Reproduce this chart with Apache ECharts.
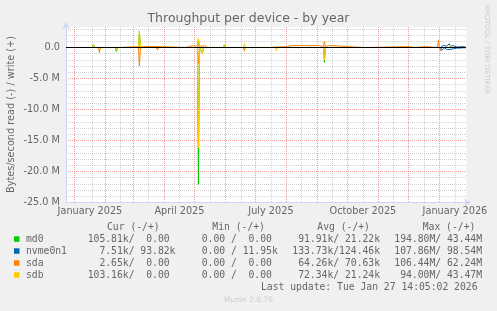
<!DOCTYPE html>
<html><head><meta charset="utf-8">
<script src="https://cdn.jsdelivr.net/npm/echarts@6/dist/echarts.min.js"></script>
<style>html,body{margin:0;padding:0;background:#F0F0F0;}#c{width:497px;height:311px;}</style>
</head><body><div id="c"></div>
<script>
// ---------- data ----------
const startTime = '2024-12-23 14:05:02';
const endTime = '2026-01-27 14:05:02';
const monthStarts = ['2025-01-01','2025-02-01','2025-03-01','2025-04-01','2025-05-01','2025-06-01','2025-07-01','2025-08-01','2025-09-01','2025-10-01','2025-11-01','2025-12-01','2026-01-01'];
const minorTicks = ['2025-01-19 07:00','2025-02-15 14:00','2025-03-15 22:00','2025-04-15 22:00','2025-05-17 07:00','2025-06-17 07:00','2025-07-17 07:00','2025-08-16 07:00','2025-09-15 22:00','2025-10-16 14:00','2025-11-16 07:00','2025-12-16 22:00','2026-01-16 14:00'];
const xLabelDates = ['2025-01-16 12:00','2025-04-16 00:00','2025-07-16 12:00','2025-10-16 12:00','2026-01-16 12:00'];
const xLabelTexts = ['January 2025','April 2025','July 2025','October 2025','January 2026'];

// values in millions of bytes/second; reads negative, writes positive
const md0Read = [['2025-02-11',0],['2025-02-12',-0.65],['2025-02-13',0],['2025-05-04',0],['2025-05-05',-22.1],['2025-05-06',0],['2025-05-08',0],['2025-05-09',-1.0],['2025-05-10',0],['2025-09-07',0],['2025-09-08',-2.4],['2025-09-09',0]];
const md0Write = [['2025-01-19',0],['2025-01-20',0.5],['2025-01-21',0],['2025-03-06',0],['2025-03-07',2.6],['2025-03-08',0],['2025-05-04',0],['2025-05-05',1.4],['2025-05-06',0],['2025-05-30',0],['2025-05-31',0.45],['2025-06-01',0]];
const nvmeDates = ['2026-01-03','2026-01-04','2026-01-05','2026-01-06','2026-01-07','2026-01-08','2026-01-09','2026-01-10','2026-01-11','2026-01-12','2026-01-13','2026-01-14','2026-01-15','2026-01-16','2026-01-17','2026-01-18','2026-01-19','2026-01-20','2026-01-21','2026-01-22','2026-01-23','2026-01-24','2026-01-25','2026-01-26','2026-01-27'];
const nvmeRead = [-0.45,-0.2,-0.35,-0.1,-0.3,-0.15,-0.35,-0.1,-0.2,-0.3,-0.15,-0.1,-0.2,-0.1,-0.15,-0.1,-0.1,-0.05,-0.1,-0.05,-0.1,-0.05,-0.1,-0.05,-0.05];
const nvmeWrite = [0.3,0.15,0.35,0.1,0.25,0.2,0.3,0.15,0.6,0.2,0.1,0.25,0.3,0.15,0.2,0.1,0.2,0.15,0.1,0.15,0.1,0.15,0.1,0.1,0.1];
const sdaRead = [['2025-01-25',0],['2025-01-26',-0.85],['2025-01-27',0],['2025-02-11',0],['2025-02-12',-0.3],['2025-02-13',0],['2025-03-06',0],['2025-03-07',-3.0],['2025-03-08',0],['2025-03-24',0],['2025-03-25',-0.4],['2025-03-26',0],['2025-05-04',0],['2025-05-05',-2.6],['2025-05-06',0],['2025-05-07',0],['2025-05-08',-0.3],['2025-05-09',0],['2025-06-19',0],['2025-06-20',-0.6],['2025-06-21',0],['2025-09-07',0],['2025-09-08',-1.0],['2025-09-09',0],['2026-01-01',0],['2026-01-02',-0.55],['2026-01-03',0]];
const sdaWrite = [['2025-01-12',0],['2025-01-13',0.15],['2025-01-14',0],['2025-02-15',0],['2025-02-16',0.15],['2025-03-09',0.15],['2025-03-10',0.35],['2025-03-11',0.15],['2025-03-25',0.15],['2025-03-26',0],['2025-04-22',0],['2025-04-23',0.25],['2025-04-26',0.15],['2025-04-29',0.3],['2025-05-02',0.2],['2025-05-05',0.35],['2025-05-08',0.2],['2025-05-11',0.3],['2025-05-13',0.2],['2025-05-14',0],['2025-07-05',0],['2025-07-06',0.15],['2025-07-07',0],['2025-07-15',0],['2025-07-16',0.15],['2025-08-02',0.15],['2025-08-03',0.45],['2025-08-04',0.15],['2025-08-06',0.3],['2025-08-07',0.15],['2025-08-14',0.3],['2025-08-15',0.15],['2025-08-19',0.3],['2025-08-20',0.15],['2025-09-03',0.3],['2025-09-04',0.15],['2025-09-07',0.15],['2025-09-08',1.0],['2025-09-09',0.15],['2025-09-12',0.3],['2025-09-13',0.15],['2025-09-17',0.3],['2025-09-18',0.15],['2025-09-22',0.25],['2025-09-23',0.15],['2025-09-30',0.15],['2025-10-01',0],['2025-10-18',0],['2025-10-19',0.3],['2025-10-20',0],['2025-10-23',0],['2025-10-24',0.15],['2025-11-29',0.15],['2025-11-30',0],['2025-12-08',0],['2025-12-09',0.15],['2025-12-18',0.15],['2025-12-19',0],['2025-12-30',0],['2025-12-31',1.2],['2026-01-01',0]];
const sdbRead = [['2025-02-11',0],['2025-02-12',-0.4],['2025-02-13',0],['2025-05-04',0],['2025-05-05',-16.2],['2025-05-06',0],['2025-05-08',0],['2025-05-09',-1.0],['2025-05-10',0],['2025-06-09',0],['2025-06-10',-0.2],['2025-06-11',0],['2025-07-21',0],['2025-07-22',-0.5],['2025-07-23',0],['2025-09-07',0],['2025-09-08',-2.0],['2025-09-09',0],['2025-09-25',0],['2025-09-26',-0.2],['2025-09-27',0],['2025-12-10',0],['2025-12-11',-0.25],['2025-12-12',0]];
const sdbWrite = [['2025-01-19',0],['2025-01-20',0.5],['2025-01-21',0],['2025-03-06',0],['2025-03-07',2.7],['2025-03-08',0],['2025-05-04',0],['2025-05-05',1.5],['2025-05-06',0],['2025-05-30',0],['2025-05-31',0.5],['2025-06-01',0],['2025-06-19',0],['2025-06-20',0.6],['2025-06-21',0],['2026-01-11',0],['2026-01-12',0.4],['2026-01-13',0]];
const zeroLine = [[startTime,0],[endTime,0]];

const devices = ['md0','nvme0n1','sda','sdb'];
const deviceColors = ['#00CC00','#0066B3','#FF8000','#FFCC00'];
const curStats = ['105.81k/  0.00','  7.51k/ 93.82k','  2.65k/  0.00','103.16k/  0.00'];
const minStats = ['  0.00 /  0.00','  0.00 / 11.95k','  0.00 /  0.00','  0.00 /  0.00'];
const avgStats = [' 91.91k/ 21.22k','133.73k/124.46k',' 64.26k/ 70.63k',' 72.34k/ 21.24k'];
const maxStats = ['194.80M/ 43.44M','107.86M/ 98.54M','106.44M/ 62.24M',' 94.00M/ 43.47M'];
const headers = ['Cur (-/+)','Min (-/+)','Avg (-/+)','Max (-/+)'];
const titleText = 'Throughput per device - by year';
const yAxisTitle = 'Bytes/second read (-) / write (+)';
const lastUpdate = 'Last update: Tue Jan 27 14:05:02 2026';
const watermark = 'RRDTOOL / TOBI OETIKER';
const footer = 'Munin 2.0.76';

// ---------- chart ----------
const T = s => echarts.time.parse(s).getTime();
const gridTicks = [];
monthStarts.forEach((m, i) => { gridTicks.push(T(m)); gridTicks.push(T(minorTicks[i])); });
const labelTimes = xLabelDates.map(T);
const toXY = arr => arr.map(p => [T(p[0]), p[1]]);

const MAJOR = 'rgba(222,79,79,0.55)';
const MINOR = 'rgba(143,143,143,0.42)';
const AX = '#CFD6F8';
const FONT = '#666666';
const SANS = 'DejaVu Sans';
const MONO = 'DejaVu Sans Mono';
const FS = 9.72;

const nvmeReadPairs = [['2026-01-02',0]].concat(nvmeDates.map((d, i) => [d, nvmeRead[i]]));
const nvmeWritePairs = [['2026-01-02',0]].concat(nvmeDates.map((d, i) => [d, nvmeWrite[i]]));
const seriesData = [
  [md0Read, md0Write],
  [nvmeReadPairs, nvmeWritePairs],
  [sdaRead, sdaWrite],
  [sdbRead, sdbWrite]
];

const series = [];
seriesData.forEach((pair, i) => {
  pair.forEach((d, j) => {
    series.push({
      type: 'line', name: devices[i] + (j ? '_write' : '_read'), data: toXY(d),
      symbol: 'none', showSymbol: false, silent: true,
      lineStyle: { color: deviceColors[i], width: 1 },
      itemStyle: { color: deviceColors[i] }, z: 2
    });
  });
});
series.push({ type: 'line', data: toXY(zeroLine), symbol: 'none', silent: true,
  lineStyle: { color: '#000000', width: 1 }, itemStyle: { color: '#000' }, z: 4 });

const txt = (text, x, y, opts) => Object.assign({
  type: 'text', x: x, y: y, silent: true,
  style: Object.assign({ text: text, fill: FONT, fontFamily: SANS, fontSize: FS,
    align: 'left', textAlign: 'left', verticalAlign: 'middle', textVerticalAlign: 'middle' }, opts && opts.style || {})
}, opts && opts.el || {});

const graphics = [];
graphics.push(txt(titleText, 248.5, 19, { style: { fontSize: 12.5, align: 'center', textAlign: 'center' } }));
graphics.push(txt(yAxisTitle, 11, 114.5, { style: { align: 'center', textAlign: 'center' }, el: { rotation: Math.PI / 2 } }));
graphics.push(txt(watermark, 487, 5, { style: { fontSize: 6.94, fill: '#CCCCCC' }, el: { rotation: -Math.PI / 2 } }));
graphics.push(txt(footer, 248.5, 300, { style: { fontSize: 7.5, fill: '#CCCCCC', align: 'center', textAlign: 'center' } }));
const headerX = [107, 212.3, 317.3, 422.7];
headers.forEach((h, i) => graphics.push(txt(h, headerX[i], 227.3, { style: { fontFamily: MONO } })));
const colX = [87.7, 190, 292.3, 394.3];
devices.forEach((d, i) => {
  const y = 239.3 + i * 12;
  graphics.push({ type: 'rect', silent: true, shape: { x: 14, y: y - 3, width: 5.5, height: 5.5 }, style: { fill: deviceColors[i] } });
  graphics.push(txt(d, 26, y, { style: { fontFamily: MONO } }));
  [curStats, minStats, avgStats, maxStats].forEach((arr, k) => {
    graphics.push(txt(arr[i], colX[k], y, { style: { fontFamily: MONO } }));
  });
});
graphics.push(txt(lastUpdate, 261, 287.3, { style: { fontFamily: MONO } }));

const chart = echarts.init(document.getElementById('c'), null, { renderer: 'canvas' });
chart.setOption({
  backgroundColor: '#F0F0F0',
  animation: false,
  grid: { left: 66, right: 31, top: 27, bottom: 108.5, show: true, backgroundColor: '#FFFFFF', borderWidth: 0 },
  xAxis: {
    type: 'value', min: T(startTime), max: T(endTime),
    axisLine: { show: true, onZero: false, lineStyle: { color: AX, width: 1 }, symbol: ['none', 'arrow'], symbolSize: [6, 7], symbolOffset: [0, 5] },
    axisTick: { show: false, customValues: gridTicks },
    axisLabel: {
      customValues: labelTimes, color: FONT, fontFamily: SANS, fontSize: FS, margin: 4, hideOverlap: false,
      formatter: function (v) {
        let idx = 0, best = Infinity;
        labelTimes.forEach((t, i) => { const dd = Math.abs(t - v); if (dd < best) { best = dd; idx = i; } });
        return xLabelTexts[idx];
      }
    },
    splitLine: { show: true, showMinLine: true, showMaxLine: true, lineStyle: { color: [MAJOR, MINOR], type: [1, 1], width: 1 } }
  },
  yAxis: {
    type: 'value', min: -25, max: 3.306, interval: 1,
    axisLine: { show: true, lineStyle: { color: AX, width: 1 }, symbol: ['none', 'arrow'], symbolSize: [6, 7], symbolOffset: [0, 5] },
    axisTick: { show: false },
    axisLabel: {
      color: FONT, fontFamily: SANS, fontSize: FS, margin: 6, showMaxLabel: false,
      formatter: function (v) {
        if (Math.abs(v) < 1e-9) return '0.0';
        if (Math.abs(v % 5) < 1e-9) return v.toFixed(1) + ' M';
        return '';
      }
    },
    splitLine: { show: true, showMinLine: true, showMaxLine: false, lineStyle: { color: [MAJOR, MINOR, MINOR, MINOR, MINOR], type: [1, 1], width: 1 } }
  },
  graphic: graphics,
  series: series
});
</script>
</body></html>
